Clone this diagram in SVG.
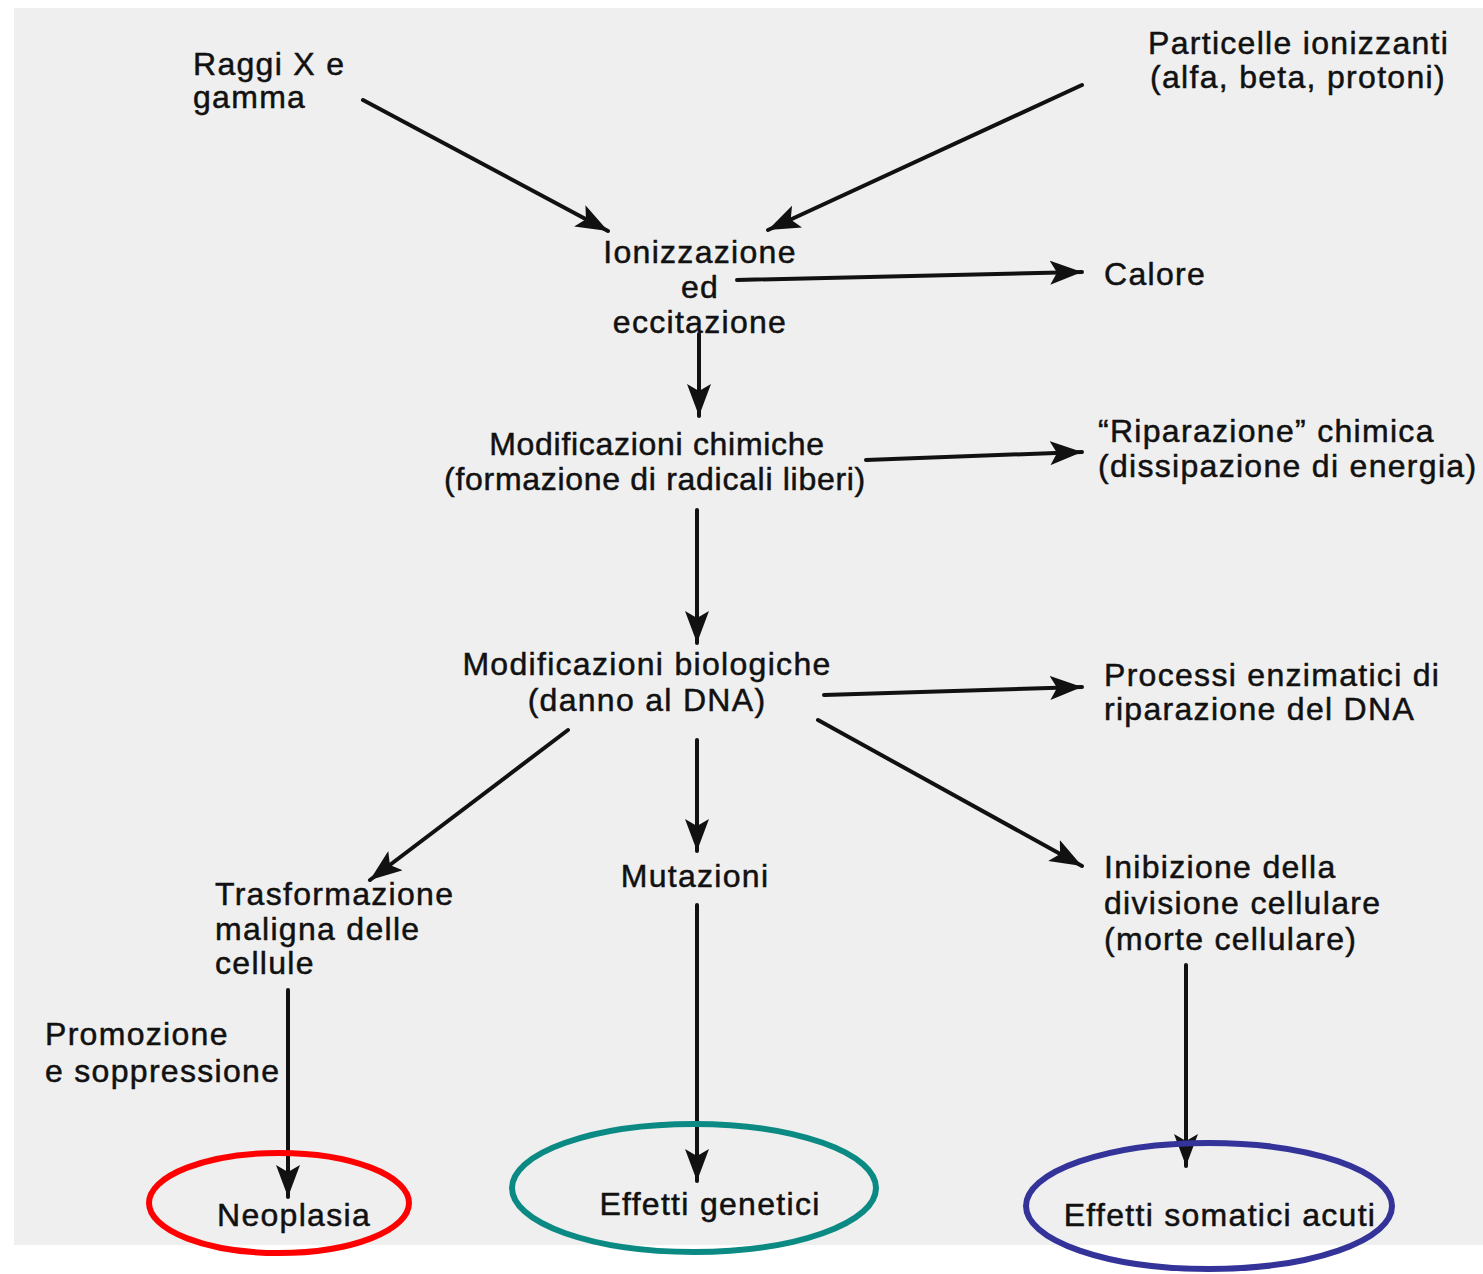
<svg xmlns="http://www.w3.org/2000/svg" width="1483" height="1274" viewBox="0 0 1483 1274">
<style>
  text { font-family: "Liberation Sans", Arial, sans-serif; font-size: 32px; fill: #111; stroke: #111; stroke-width: 0.5; letter-spacing: 1.3px; }
  .c { text-anchor: middle; }
  .t { letter-spacing: 0.7px; }
  .ln { stroke: #111; stroke-width: 4; fill: none; stroke-linecap: round; }
  .ell { fill: none; stroke-width: 6; }
</style>
<defs>
  <marker id="ah" markerUnits="userSpaceOnUse" markerWidth="34" markerHeight="24" refX="32" refY="12" orient="auto">
    <path d="M0,0 L32,12 L0,24 L7,12 z" fill="#111"/>
  </marker>
</defs>
<rect x="0" y="0" width="1483" height="1274" fill="#ffffff"/>
<rect x="14" y="8" width="1469" height="1237" fill="#efefef"/>

<g id="connectors">
  <line class="ln" x1="363" y1="100" x2="608" y2="231" marker-end="url(#ah)"/>
  <line class="ln" x1="1082" y1="85" x2="768" y2="230" marker-end="url(#ah)"/>
  <line class="ln" x1="737" y1="280" x2="1082" y2="272" marker-end="url(#ah)"/>
  <line class="ln" x1="699" y1="334" x2="699" y2="416" marker-end="url(#ah)"/>
  <line class="ln" x1="866" y1="460" x2="1082" y2="452" marker-end="url(#ah)"/>
  <line class="ln" x1="697" y1="510" x2="697" y2="643" marker-end="url(#ah)"/>
  <line class="ln" x1="824" y1="695" x2="1082" y2="687" marker-end="url(#ah)"/>
  <line class="ln" x1="568" y1="730" x2="370" y2="880" marker-end="url(#ah)"/>
  <line class="ln" x1="697" y1="740" x2="697" y2="851" marker-end="url(#ah)"/>
  <line class="ln" x1="818" y1="720" x2="1082" y2="866" marker-end="url(#ah)"/>
  <line class="ln" x1="288" y1="990" x2="288" y2="1197" marker-end="url(#ah)"/>
  <line class="ln" x1="697" y1="905" x2="697" y2="1181" marker-end="url(#ah)"/>
  <line class="ln" x1="1186" y1="965" x2="1186" y2="1166" marker-end="url(#ah)"/>
</g>

<g id="raggi"><text x="193" y="75">Raggi X e</text><text x="193" y="108">gamma</text></g>
<g id="particelle"><text x="1148" y="54">Particelle ionizzanti</text><text x="1150" y="88">(alfa, beta, protoni)</text></g>
<g id="ionizzazione"><text class="c" x="700" y="263">Ionizzazione</text><text class="c" x="700" y="298">ed</text><text class="c" x="700" y="333">eccitazione</text></g>
<g id="calore"><text x="1104" y="285">Calore</text></g>
<g id="chimiche"><text class="c t" x="657" y="455">Modificazioni chimiche</text><text class="c t" x="655" y="490">(formazione di radicali liberi)</text></g>
<g id="riparazione-chimica"><text x="1098" y="442">“Riparazione” chimica</text><text x="1098" y="477">(dissipazione di energia)</text></g>
<g id="biologiche"><text class="c" x="647" y="675">Modificazioni biologiche</text><text class="c" x="647" y="711">(danno al DNA)</text></g>
<g id="enzimatici"><text x="1104" y="686">Processi enzimatici di</text><text x="1104" y="720">riparazione del DNA</text></g>
<g id="mutazioni"><text class="c" x="695" y="887">Mutazioni</text></g>
<g id="trasformazione"><text x="215" y="905">Trasformazione</text><text x="215" y="940">maligna delle</text><text x="215" y="974">cellule</text></g>
<g id="promozione"><text x="45" y="1045">Promozione</text><text x="45" y="1082">e soppressione</text></g>
<g id="inibizione"><text x="1104" y="878">Inibizione della</text><text x="1104" y="914">divisione cellulare</text><text x="1104" y="950">(morte cellulare)</text></g>

<g id="neoplasia"><ellipse class="ell" cx="279" cy="1203" rx="130" ry="50" stroke="#ff0000"/><text class="c" x="294" y="1226">Neoplasia</text></g>
<g id="genetici"><ellipse class="ell" cx="694" cy="1188" rx="182" ry="64" stroke="#0b8a84"/><text class="c" x="710" y="1215">Effetti genetici</text></g>
<g id="somatici"><ellipse class="ell" cx="1209" cy="1206" rx="183" ry="63" stroke="#333399"/><text class="c" x="1220" y="1226">Effetti somatici acuti</text></g>
</svg>
